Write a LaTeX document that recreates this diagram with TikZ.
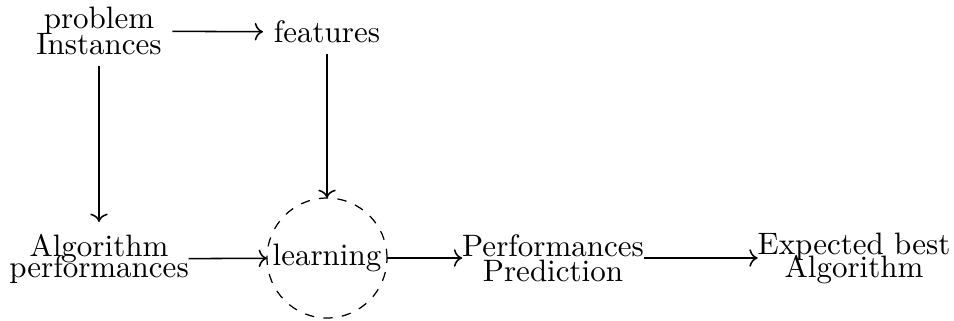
\documentclass[tikz,border=0pt]{standalone}
\usetikzlibrary{arrows.meta}
\begin{document}
\begin{tikzpicture}[x=0.3226pt,y=-0.3226pt,
  topbox/.style={align=center,inner sep=3.5pt,outer sep=0pt},
  botbox/.style={align=center,inner xsep=0pt,inner ysep=4pt,outer sep=0pt},
  learnbox/.style={circle,dashed,draw,minimum size=38.7pt,inner sep=0pt,outer sep=0pt},
  flow/.style={->,line width=0.5pt}]
\useasboundingbox (0,0) rectangle (954,320);
\node[topbox] (pi) at (99,31) {problem\\[-3.6pt]Instances};
\node[topbox] (feat) at (327,32) {features};
\node[botbox] (ap) at (99,259) {Algorithm\\[-5.2pt]performances};
\node[learnbox] (learn) at (327,258) {learning};
\node[botbox] (pp) at (553,258) {Performances\\[-3.9pt]Prediction};
\node[botbox] (eba) at (854,258) {Expected best\\[-4.6pt]Algorithm};
\draw[flow] (pi) -- (feat);
\draw[flow] (pi) -- (ap);
\draw[flow] (feat) -- (learn);
\draw[flow] (ap) -- (learn);
\draw[flow] (learn) -- (pp);
\draw[flow] (pp) -- (eba);
\end{tikzpicture}
\end{document}
